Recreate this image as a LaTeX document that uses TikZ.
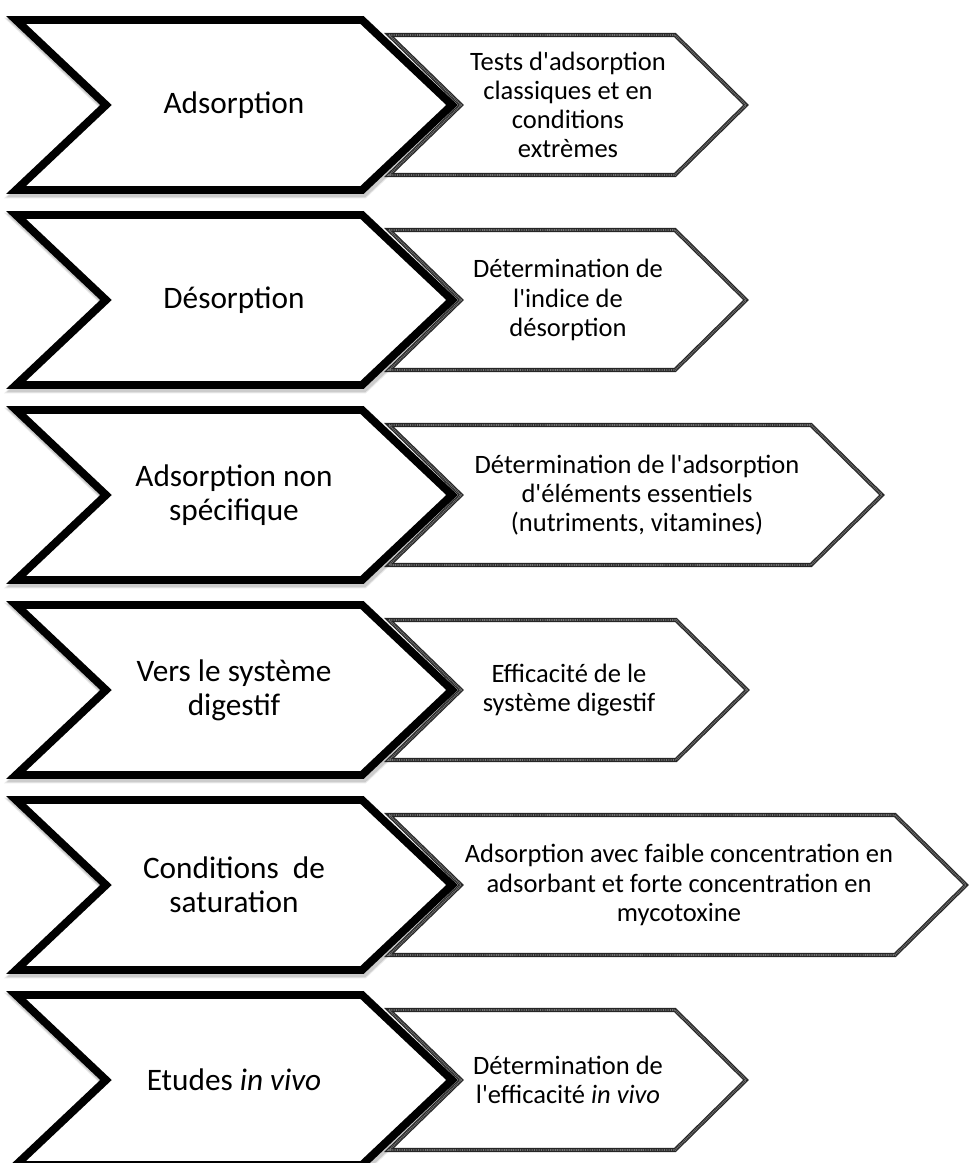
\documentclass[tikz,border=0pt]{standalone}
\usepackage{fontspec}
\setmainfont{Carlito}[UprightFont={* Regular}, ItalicFont={* Italic}]
\usepackage{tikz}
\newcommand{\sq}{\textquotesingle}
\tikzset{shadowline/.style={draw=black!#1, line width=5pt, shift={(1.5,3)}}}

\begin{document}
\begin{tikzpicture}[x=0.02cm, y=-0.02cm,
        bigtext/.style={align=center, font=\fontsize{17.8}{19.5}\selectfont},
        smalltext/.style={align=center, font=\fontsize{15.1}{16.6}\selectfont},
        bigchev/.style={line width=4.5pt, draw=black, fill=white},
        smallchev/.style={line width=2.3pt, draw=black!85, fill=white},
        smalldots/.style={line width=1.1pt, draw=black!55, dash pattern=on 0.5pt off 0.5pt}]
        \useasboundingbox (0,0) rectangle (968,1163);
        \foreach \y/\c in {105/675, 300/675, 495/811, 690/676, 885/895, 1080/675}{
            \draw [shadowline=8, line width=6.2pt] (16,\y-85) -- (362,\y-85) -- (452,\y) -- (362,\y+85) -- (16,\y+85) -- (106,\y) -- cycle;
            \draw [shadowline=20] (16,\y-85) -- (362,\y-85) -- (452,\y) -- (362,\y+85) -- (16,\y+85) -- (106,\y) -- cycle;
            \draw [bigchev] (16,\y-85) -- (362,\y-85) -- (452,\y) -- (362,\y+85) -- (16,\y+85) -- (106,\y) -- cycle;
            \draw [smallchev] (389,\y-70) -- (\c,\y-70) -- (\c+71,\y) -- (\c,\y+70) -- (389,\y+70) -- (461,\y) -- cycle;
            \draw [smalldots] (389,\y-70) -- (\c,\y-70) -- (\c+71,\y) -- (\c,\y+70) -- (389,\y+70) -- (461,\y) -- cycle;
        }
        \node [bigtext] (adsorption) at (234,105) {Adsorption};
        \node [bigtext] (desorption) at (234,300) {Désorption};
        \node [bigtext] (nonspec) at (234,495) {Adsorption non\\spécifique};
        \node [bigtext] (digestif) at (234,690) {Vers le système\\digestif};
        \node [bigtext] (saturation) at (234,885) {Conditions\ \ de\\saturation};
        \node [bigtext] (invivo) at (234,1080) {Etudes \textit{in vivo}};
        \node [smalltext] (tests) at (568,105) {Tests d\sq adsorption\\classiques et en\\conditions\\extrèmes};
        \node [smalltext] (indice) at (568,300) {Détermination de\\l\sq indice de\\désorption};
        \node [smalltext] (essentiels) at (637,495) {Détermination de l\sq adsorption\\d\sq éléments essentiels\\(nutriments, vitamines)};
        \node [smalltext] (efficacite) at (569,690) {Efficacité de le\\système digestif};
        \node [smalltext] (concentration) at (679,885) {Adsorption avec faible concentration en\\adsorbant et forte concentration en\\mycotoxine};
        \node [smalltext] (efficacitevivo) at (568,1080) {Détermination de\\l\sq efficacité \textit{in vivo}};
    \end{tikzpicture}
\end{document}
